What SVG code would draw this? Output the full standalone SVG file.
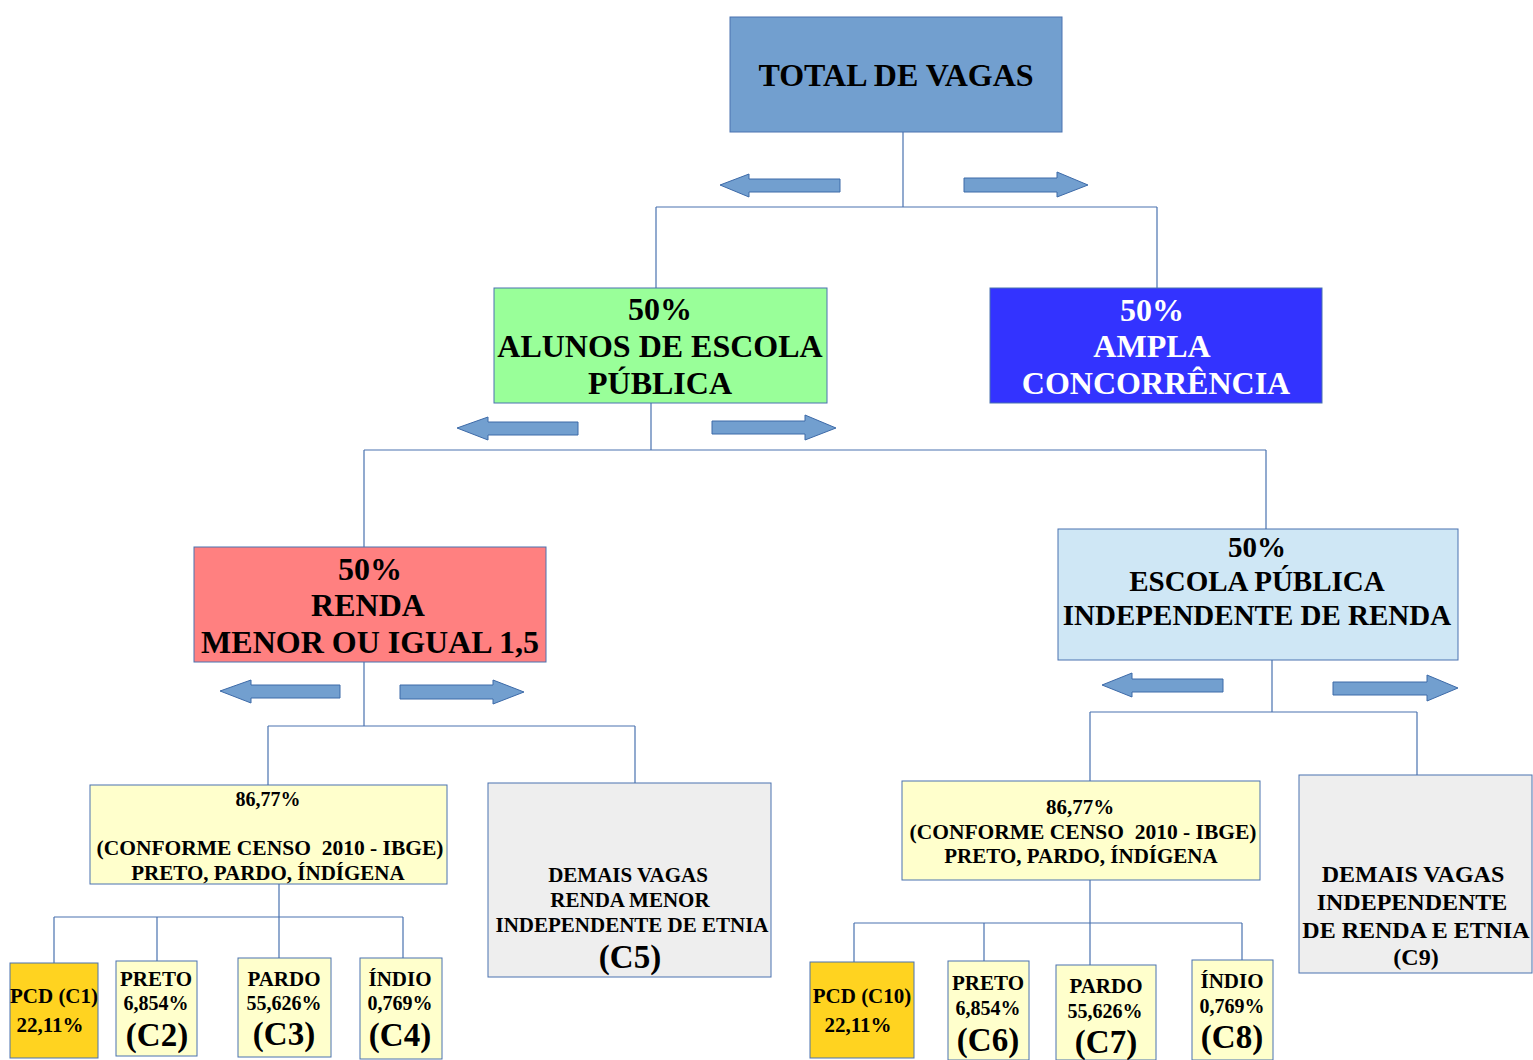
<svg xmlns="http://www.w3.org/2000/svg" width="1533" height="1060" viewBox="0 0 1533 1060">
<defs>
<style>
text{font-family:"Liberation Serif","Times New Roman",serif;font-weight:bold;text-anchor:middle;fill:#000;white-space:pre}
.box{stroke:#4a72b0;stroke-width:1}
.line{stroke:#4a72b0;stroke-width:1.2;fill:none}
.arr{fill:#729fcf;stroke:#3d6aa8;stroke-width:1}
.t30{font-size:32px}
.t28{font-size:29px}
.t20{font-size:20px}
.t21{font-size:21px}
.t21b{font-size:21.5px}
.t24{font-size:24px}
.t32{font-size:33px}
.p21{font-size:21px}
.w{fill:#fff}
</style>
</defs>
<rect width="1533" height="1060" fill="#fff"/>
<g id="connectors">
<path class="line" d="M903 132V207M656 207H1157M656 207V288M1157 207V288"/>
<path class="line" d="M651 403V450M364 450H1266M364 450V547M1266 450V529"/>
<path class="line" d="M364 662V726M268 726H635M268 726V785M635 726V783"/>
<path class="line" d="M1272 660V712M1090 712H1417M1090 712V781M1417 712V775"/>
<path class="line" d="M279 884V917M54 917H403M54 917V963M157 917V961M279 917V958M403 917V958"/>
<path class="line" d="M1090 880V923M854 923H1242M854 923V962M984 923V961M1090 923V965M1242 923V960"/>
<path class="arr" d="M720 185L749 174V179H840V192H749V197Z"/>
<path class="arr" d="M1088 185L1057 172V178H964V192H1057V197Z"/>
<path class="arr" d="M457 428L488 417V422H578V435H488V440Z"/>
<path class="arr" d="M836 428L805 415V421H712V434H805V440Z"/>
<path class="arr" d="M220 691L251 680V685H340V698H251V703Z"/>
<path class="arr" d="M524 692L493 680V685H400V699H493V704Z"/>
<path class="arr" d="M1102 685L1132 673V679H1223V692H1132V697Z"/>
<path class="arr" d="M1458 688L1427 675V682H1333V695H1427V701Z"/>
</g>
<g id="total">
<rect class="box" x="730" y="17" width="332" height="115" fill="#729fcf"/>
<text class="t30" x="896" y="86">TOTAL DE VAGAS</text>
</g>
<g id="escola-publica">
<rect class="box" x="494" y="288" width="333" height="115" fill="#99ff99"/>
<text class="t30" x="660" y="320">50%</text>
<text class="t30" x="660" y="357">ALUNOS DE ESCOLA</text>
<text class="t30" x="660" y="394">PÚBLICA</text>
</g>
<g id="ampla">
<rect class="box" x="990" y="288" width="332" height="115" fill="#3333ff"/>
<text class="t30 w" x="1152" y="321">50%</text>
<text class="t30 w" x="1152" y="357">AMPLA</text>
<text class="t30 w" x="1156" y="394">CONCORRÊNCIA</text>
</g>
<g id="renda">
<rect class="box" x="194" y="547" width="352" height="115" fill="#ff8080"/>
<text class="t30" x="370" y="580">50%</text>
<text class="t30" x="368" y="616">RENDA</text>
<text class="t30" x="370" y="653">MENOR OU IGUAL 1,5</text>
</g>
<g id="independente-renda">
<rect class="box" x="1058" y="529" width="400" height="131" fill="#cfe7f5"/>
<text class="t28" x="1257" y="557">50%</text>
<text class="t28" x="1257" y="591">ESCOLA PÚBLICA</text>
<text class="t28" x="1257" y="625">INDEPENDENTE DE RENDA</text>
</g>
<g id="etnia-renda">
<rect class="box" x="90" y="785" width="357" height="99" fill="#ffffcc"/>
<text class="t20" x="268" y="806">86,77%</text>
<text class="t21b" x="270" y="855">(CONFORME CENSO  2010 - IBGE)</text>
<text class="t21" x="268" y="880">PRETO, PARDO, ÍNDÍGENA</text>
</g>
<g id="c5">
<rect class="box" x="488" y="783" width="283" height="194" fill="#eeeeee"/>
<text class="t21" x="628" y="882">DEMAIS VAGAS</text>
<text class="t21" x="630" y="907">RENDA MENOR</text>
<text class="t21" x="632" y="932">INDEPENDENTE DE ETNIA</text>
<text class="t32" x="630" y="968">(C5)</text>
</g>
<g id="etnia-independente">
<rect class="box" x="902" y="781" width="358" height="99" fill="#ffffcc"/>
<text class="t21" x="1080" y="814">86,77%</text>
<text class="t21b" x="1083" y="839">(CONFORME CENSO  2010 - IBGE)</text>
<text class="t21" x="1081" y="863">PRETO, PARDO, ÍNDÍGENA</text>
</g>
<g id="c9">
<rect class="box" x="1299" y="775" width="233" height="198" fill="#eeeeee"/>
<text class="t24" x="1413" y="882">DEMAIS VAGAS</text>
<text class="t24" x="1412" y="910">INDEPENDENTE</text>
<text class="t24" x="1416" y="938">DE RENDA E ETNIA</text>
<text class="t24" x="1416" y="965">(C9)</text>
</g>
<g id="c1">
<rect class="box" x="10" y="963" width="88" height="95" fill="#ffd320"/>
<text class="p21" x="54" y="1003">PCD (C1)</text>
<text class="p21" x="50" y="1032">22,11%</text>
</g>
<g id="c2">
<rect class="box" x="116" y="961" width="81" height="95" fill="#ffffcc"/>
<text class="t21" x="156" y="986">PRETO</text>
<text class="t20" x="156" y="1010">6,854%</text>
<text class="t32" x="157" y="1046">(C2)</text>
</g>
<g id="c3">
<rect class="box" x="238" y="958" width="93" height="99" fill="#ffffcc"/>
<text class="t21" x="284" y="986">PARDO</text>
<text class="t20" x="284" y="1010">55,626%</text>
<text class="t32" x="284" y="1045">(C3)</text>
</g>
<g id="c4">
<rect class="box" x="360" y="958" width="82" height="101" fill="#ffffcc"/>
<text class="t21" x="400" y="986">ÍNDIO</text>
<text class="t20" x="400" y="1010">0,769%</text>
<text class="t32" x="400" y="1046">(C4)</text>
</g>
<g id="c10">
<rect class="box" x="810" y="962" width="104" height="96" fill="#ffd320"/>
<text class="p21" x="862" y="1003">PCD (C10)</text>
<text class="p21" x="858" y="1032">22,11%</text>
</g>
<g id="c6">
<rect class="box" x="948" y="961" width="81" height="99" fill="#ffffcc"/>
<text class="t21" x="988" y="990">PRETO</text>
<text class="t20" x="988" y="1015">6,854%</text>
<text class="t32" x="988" y="1051">(C6)</text>
</g>
<g id="c7">
<rect class="box" x="1056" y="965" width="100" height="95" fill="#ffffcc"/>
<text class="t21" x="1106" y="993">PARDO</text>
<text class="t20" x="1105" y="1018">55,626%</text>
<text class="t32" x="1106" y="1053">(C7)</text>
</g>
<g id="c8">
<rect class="box" x="1192" y="960" width="81" height="100" fill="#ffffcc"/>
<text class="t21" x="1232" y="988">ÍNDIO</text>
<text class="t20" x="1232" y="1013">0,769%</text>
<text class="t32" x="1232" y="1048">(C8)</text>
</g>
</svg>
